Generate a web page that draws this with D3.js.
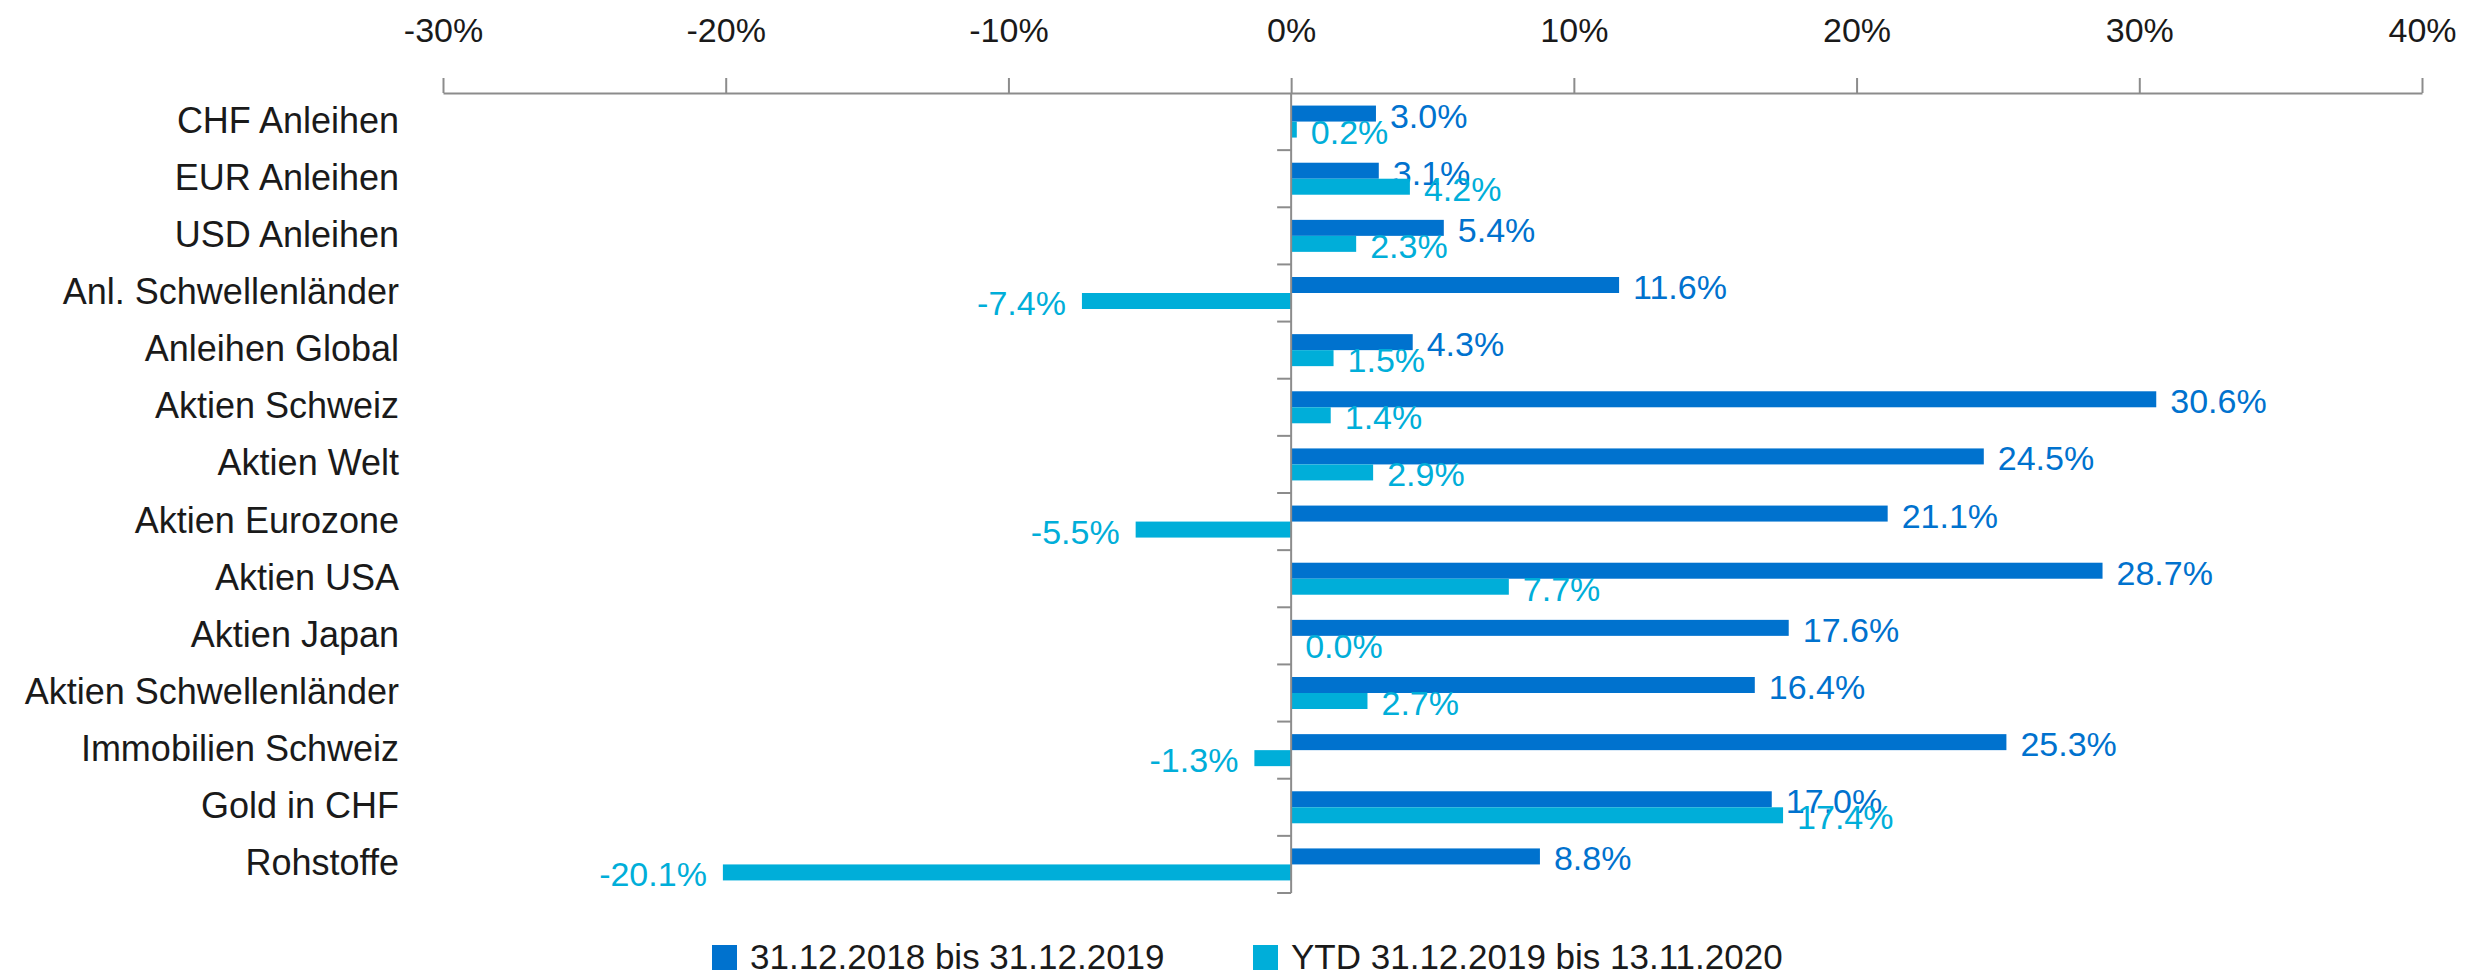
<!DOCTYPE html>
<html>
<head>
<meta charset="utf-8">
<script src="https://cdn.jsdelivr.net/npm/d3@7"></script>
<style>
  body { margin: 0; background: #fff; }
  text { font-family: "Liberation Sans", Arial, sans-serif; }
</style>
</head>
<body>
<svg class="chart"></svg>
<script>
let categories = ["CHF Anleihen", "EUR Anleihen", "USD Anleihen", "Anl. Schwellenländer", "Anleihen Global",
  "Aktien Schweiz", "Aktien Welt", "Aktien Eurozone", "Aktien USA", "Aktien Japan",
  "Aktien Schwellenländer", "Immobilien Schweiz", "Gold in CHF", "Rohstoffe"];
let series2019 = [3.0, 3.1, 5.4, 11.6, 4.3, 30.6, 24.5, 21.1, 28.7, 17.6, 16.4, 25.3, 17.0, 8.8];
let seriesYtd  = [0.2, 4.2, 2.3, -7.4, 1.5, 1.4, 2.9, -5.5, 7.7, 0.0, 2.7, -1.3, 17.4, -20.1];
let seriesNames = ["31.12.2018 bis 31.12.2019", "YTD 31.12.2019 bis 13.11.2020"];
let xTicks = [-30, -20, -10, 0, 10, 20, 30, 40];

let width  = 2465;
let height = 974;
let dark   = "#0072ce";
let light  = "#00aed9";
let grey   = "#8c8c8c";

let svg = d3.select(".chart").attr("width", width).attr("height", height);

let x = d3.scaleLinear().domain([-30, 40]).range([443, 2422]);
let y = d3.scaleBand().domain(categories).range([93, 893]);
let barH = 16;
let inner = d3.scaleBand().domain([0, 1])
  .range([(y.bandwidth() - 2 * barH) / 2, (y.bandwidth() + 2 * barH) / 2]);

// top axis
let xAxis = svg.append("g").attr("transform", "translate(0,93)")
  .call(d3.axisTop(x).tickValues(xTicks).tickSize(15).tickSizeOuter(0).tickPadding(36)
    .tickFormat(d => d + "%"));
xAxis.select(".domain").attr("stroke", grey).attr("stroke-width", 2);
xAxis.selectAll(".tick line").attr("stroke", grey).attr("stroke-width", 2);
xAxis.selectAll(".tick text").attr("font-size", 34).attr("fill", "#1a1a1a")
  .style("font-family", "'Liberation Sans', Arial, sans-serif");

// category labels
svg.append("g").selectAll("text").data(categories).join("text")
  .attr("x", 399)
  .attr("y", d => y(d) + y.bandwidth() / 2 + 11)
  .attr("text-anchor", "end")
  .attr("font-size", 36)
  .attr("fill", "#1a1a1a")
  .text(d => d);

// bars
let rows = categories.map((c, i) => ({ c: c, v: [series2019[i], seriesYtd[i]] }));
let colors = [dark, light];

[0, 1].forEach(s => {
  let g = svg.append("g");
  g.selectAll("rect").data(rows).join("rect")
    .attr("x", d => x(Math.min(0, d.v[s])))
    .attr("y", d => y(d.c) + inner(s))
    .attr("width", d => Math.abs(x(d.v[s]) - x(0)))
    .attr("height", barH)
    .attr("fill", colors[s]);

  g.selectAll("text").data(rows).join("text")
    .attr("x", d => d.v[s] < 0 ? x(d.v[s]) - 16 : x(d.v[s]) + 14)
    .attr("y", d => y(d.c) + inner(s) + barH / 2 + 14)
    .attr("text-anchor", d => d.v[s] < 0 ? "end" : "start")
    .attr("font-size", 34)
    .attr("fill", colors[s])
    .text(d => d.v[s].toFixed(1) + "%");
});

// vertical zero axis with boundary ticks
let yAxis = svg.append("g").attr("stroke", grey).attr("stroke-width", 2);
yAxis.append("line")
  .attr("x1", x(0)).attr("x2", x(0))
  .attr("y1", y.range()[0]).attr("y2", y.range()[1]);
yAxis.selectAll(".yt").data(categories.slice(1).map(c => y(c)).concat([y.range()[1]])).join("line")
  .attr("class", "yt")
  .attr("x1", x(0) - 14).attr("x2", x(0))
  .attr("y1", d => d).attr("y2", d => d);

// legend
let legendX = [712, 1253];
let legend = svg.append("g").selectAll("g").data(seriesNames).join("g")
  .attr("transform", (d, i) => "translate(" + legendX[i] + ",945)");
legend.append("rect").attr("width", 25).attr("height", 25).attr("fill", (d, i) => colors[i]);
legend.append("text")
  .attr("x", 38).attr("y", 24)
  .attr("font-size", 35)
  .attr("fill", "#1a1a1a")
  .text(d => d);
</script>
</body>
</html>
